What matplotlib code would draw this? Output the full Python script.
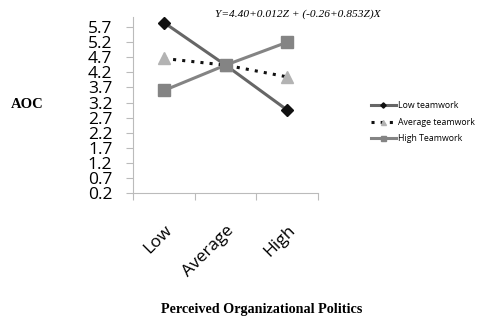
import numpy as np
import matplotlib
matplotlib.use("Agg")
import matplotlib.pyplot as plt

# data
categories = ["Low", "Average", "High"]
low_teamwork = [5.85, 4.44, 2.95]
average_teamwork = [4.66, 4.44, 4.05]
high_teamwork = [3.60, 4.44, 5.20]
y_ticks = [0.2, 0.7, 1.2, 1.7, 2.2, 2.7, 3.2, 3.7, 4.2, 4.7, 5.2, 5.7]

fig = plt.figure(figsize=(4.79, 3.18), dpi=100)
ax = fig.add_axes([0.278, 0.393, 0.386, 0.554])

x = np.arange(1, len(categories) + 1)

ax.plot(x, low_teamwork, color="#666666", lw=2.2, marker="D", ms=6,
        mfc="#111111", mec="#111111", label="Low teamwork", zorder=3)
ax.plot(x, average_teamwork, color="#111111", lw=2.2, ls=(0, (1, 2)),
        marker="^", ms=8, mfc="#b3b3b3", mec="#b3b3b3",
        label="Average teamwork", zorder=4)
ax.plot(x, high_teamwork, color="#848484", lw=2.2, marker="s", ms=8,
        mfc="#848484", mec="#848484", label="High Teamwork", zorder=5)

ax.set_xlim(0.5, 3.5)
ax.set_ylim(0.2, 6.04)
ax.set_yticks(y_ticks)
ax.set_yticklabels([f"{v:.1f}" for v in y_ticks], fontsize=12.5,
                   family="Open Sans")
ax.tick_params(axis="y", length=5, width=0.8, color="#bbbbbb", pad=10)

ax.set_xticks(x)
ax.set_xticklabels(categories, rotation=45, ha="right", va="top",
                   rotation_mode="anchor", fontsize=12.5, family="Open Sans")
ax.tick_params(axis="x", which="major", length=0, pad=21)
ax.set_xticks([0.5, 1.5, 2.5, 3.5], minor=True)
ax.tick_params(axis="x", which="minor", length=5, width=0.8, color="#bbbbbb")

for side in ["top", "right"]:
    ax.spines[side].set_visible(False)
for side in ["left", "bottom"]:
    ax.spines[side].set_color("#bbbbbb")
    ax.spines[side].set_linewidth(0.8)

fig.text(0.622, 0.955, "Y=4.40+0.012Z + (-0.26+0.853Z)X", ha="center",
         va="center", fontsize=8.2, style="italic", family="Liberation Serif")
fig.text(0.057, 0.67, "AOC", ha="center", va="center", fontsize=10.5,
         family="Liberation Serif", fontweight="bold")
fig.text(0.547, 0.028, "Perceived Organizational Politics", ha="center",
         va="center", fontsize=10.2, family="Liberation Serif",
         fontweight="bold")

fig.legend(loc="upper left", bbox_to_anchor=(0.765, 0.695), frameon=False,
           prop={"family": "Open Sans", "size": 6.3}, markerscale=0.45,
           handlelength=2.9, handletextpad=0.2, labelspacing=0.85,
           borderpad=0)

fig.savefig("out.png", dpi=100)
